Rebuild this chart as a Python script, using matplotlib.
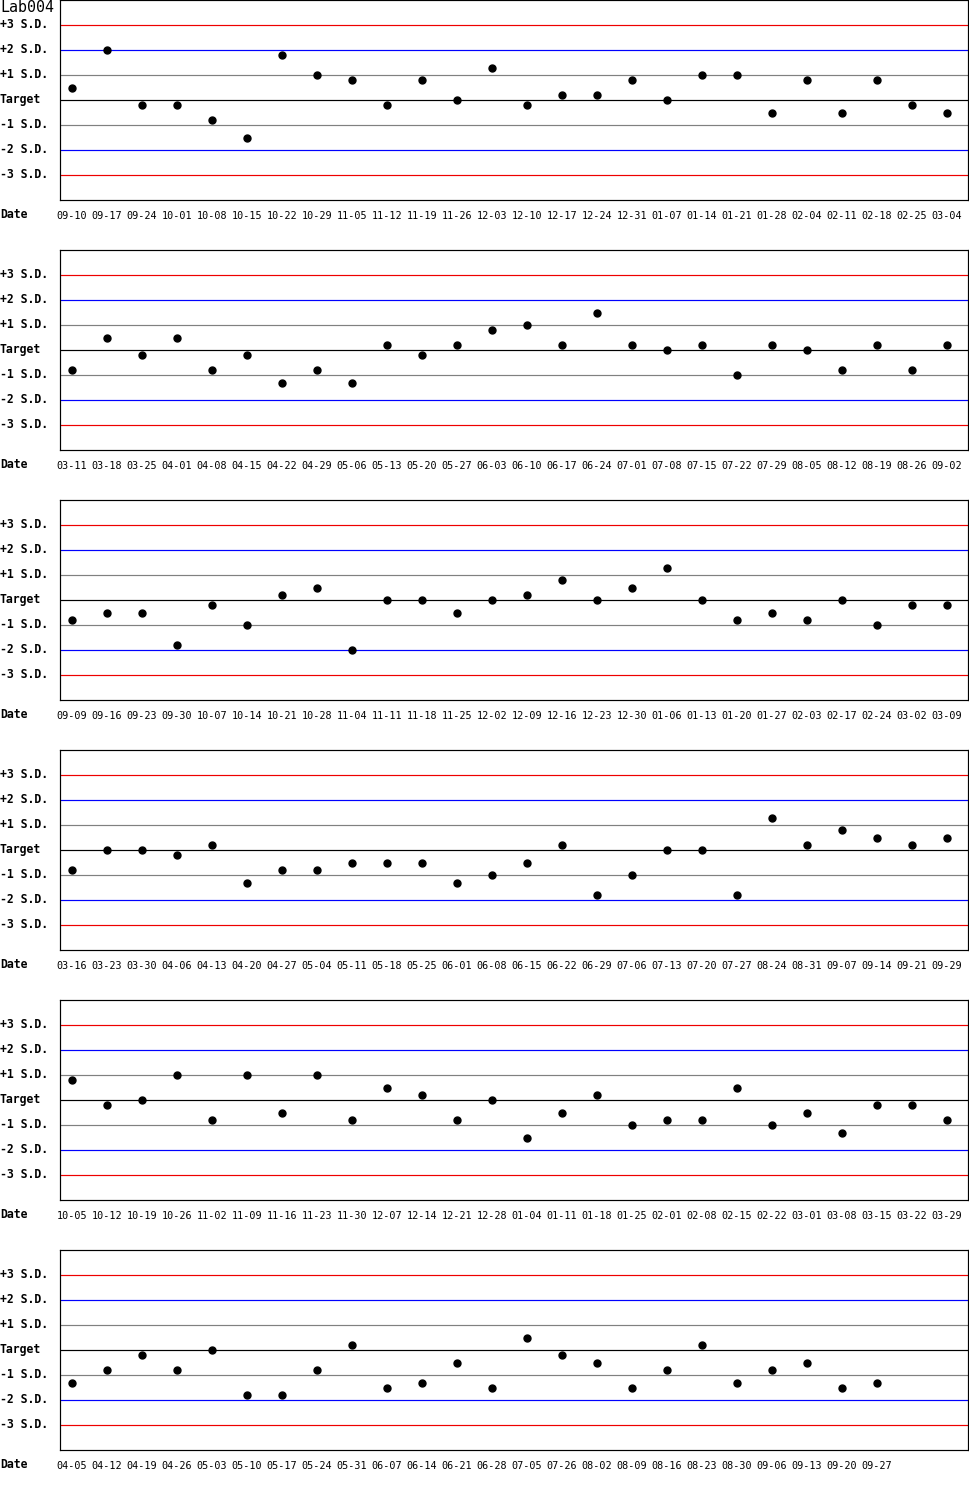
import matplotlib
matplotlib.use("Agg")
import matplotlib.pyplot as plt
import matplotlib.transforms as mtransforms

# QC dates and deviations (in S.D. from target), one list per row of the chart
dates_1 = ["09-10", "09-17", "09-24", "10-01", "10-08", "10-15", "10-22", "10-29", "11-05",
           "11-12", "11-19", "11-26", "12-03", "12-10", "12-17", "12-24", "12-31", "01-07",
           "01-14", "01-21", "01-28", "02-04", "02-11", "02-18", "02-25", "03-04"]
values_1 = [0.5, 2.0, -0.2, -0.2, -0.8, -1.5, 1.8, 1.0, 0.8, -0.2, 0.8, 0.0, 1.3, -0.2,
            0.2, 0.2, 0.8, 0.0, 1.0, 1.0, -0.5, 0.8, -0.5, 0.8, -0.2, -0.5]

dates_2 = ["03-11", "03-18", "03-25", "04-01", "04-08", "04-15", "04-22", "04-29", "05-06",
           "05-13", "05-20", "05-27", "06-03", "06-10", "06-17", "06-24", "07-01", "07-08",
           "07-15", "07-22", "07-29", "08-05", "08-12", "08-19", "08-26", "09-02"]
values_2 = [-0.8, 0.5, -0.2, 0.5, -0.8, -0.2, -1.3, -0.8, -1.3, 0.2, -0.2, 0.2, 0.8, 1.0,
            0.2, 1.5, 0.2, 0.0, 0.2, -1.0, 0.2, 0.0, -0.8, 0.2, -0.8, 0.2]

dates_3 = ["09-09", "09-16", "09-23", "09-30", "10-07", "10-14", "10-21", "10-28", "11-04",
           "11-11", "11-18", "11-25", "12-02", "12-09", "12-16", "12-23", "12-30", "01-06",
           "01-13", "01-20", "01-27", "02-03", "02-17", "02-24", "03-02", "03-09"]
values_3 = [-0.8, -0.5, -0.5, -1.8, -0.2, -1.0, 0.2, 0.5, -2.0, 0.0, 0.0, -0.5, 0.0, 0.2,
            0.8, 0.0, 0.5, 1.3, 0.0, -0.8, -0.5, -0.8, 0.0, -1.0, -0.2, -0.2]

dates_4 = ["03-16", "03-23", "03-30", "04-06", "04-13", "04-20", "04-27", "05-04", "05-11",
           "05-18", "05-25", "06-01", "06-08", "06-15", "06-22", "06-29", "07-06", "07-13",
           "07-20", "07-27", "08-24", "08-31", "09-07", "09-14", "09-21", "09-29"]
values_4 = [-0.8, 0.0, 0.0, -0.2, 0.2, -1.3, -0.8, -0.8, -0.5, -0.5, -0.5, -1.3, -1.0, -0.5,
            0.2, -1.8, -1.0, 0.0, 0.0, -1.8, 1.3, 0.2, 0.8, 0.5, 0.2, 0.5]

dates_5 = ["10-05", "10-12", "10-19", "10-26", "11-02", "11-09", "11-16", "11-23", "11-30",
           "12-07", "12-14", "12-21", "12-28", "01-04", "01-11", "01-18", "01-25", "02-01",
           "02-08", "02-15", "02-22", "03-01", "03-08", "03-15", "03-22", "03-29"]
values_5 = [0.8, -0.2, 0.0, 1.0, -0.8, 1.0, -0.5, 1.0, -0.8, 0.5, 0.2, -0.8, 0.0, -1.5,
            -0.5, 0.2, -1.0, -0.8, -0.8, 0.5, -1.0, -0.5, -1.3, -0.2, -0.2, -0.8]

dates_6 = ["04-05", "04-12", "04-19", "04-26", "05-03", "05-10", "05-17", "05-24", "05-31",
           "06-07", "06-14", "06-21", "06-28", "07-05", "07-26", "08-02", "08-09", "08-16",
           "08-23", "08-30", "09-06", "09-13", "09-20", "09-27"]
values_6 = [-1.3, -0.8, -0.2, -0.8, 0.0, -1.8, -1.8, -0.8, 0.2, -1.5, -1.3, -0.5, -1.5, 0.5,
            -0.2, -0.5, -1.5, -0.8, 0.2, -1.3, -0.8, -0.5, -1.5, -1.3]

rows = [(dates_1, values_1), (dates_2, values_2), (dates_3, values_3),
        (dates_4, values_4), (dates_5, values_5), (dates_6, values_6)]

sd_levels = [3, 2, 1, 0, -1, -2, -3]
sd_labels = ["+3 S.D.", "+2 S.D.", "+1 S.D.", "Target", "-1 S.D.", "-2 S.D.", "-3 S.D."]
sd_colors = ["#ee0000", "#0000ff", "#808080", "#000000", "#808080", "#0000ff", "#ee0000"]

W, H = 970, 1500
fig = plt.figure(figsize=(W / 100, H / 100), dpi=100)
mono = "DejaVu Sans Mono"
px = 0.72  # one pixel in points

for r, (dates, values) in enumerate(rows):
    top = 250 * r
    ax = fig.add_axes([60 / W, 1 - (top + 200) / H, 908 / W, 200 / H])
    ax.set_xlim(-12 / 35, 896 / 35)
    ax.set_ylim(-4, 4)
    for lvl, col in zip(sd_levels, sd_colors):
        ax.axhline(lvl, color=col, lw=1.2 * px, zorder=1)
    ax.plot(range(len(values)), values, "o", color="black", ms=5, zorder=3)
    ax.set_xticks([])
    ax.set_yticks([])
    for s in ax.spines.values():
        s.set_linewidth(1.2 * px)
        s.set_color("black")

    # left-side S.D. labels
    trans = mtransforms.blended_transform_factory(fig.transFigure, ax.transData)
    for lvl, lab in zip(sd_levels, sd_labels):
        ax.text(0.0, lvl + 0.02, lab, transform=trans, ha="left", va="center",
                family=mono, fontsize=8.3, fontweight="bold", clip_on=False)

    # date row under each plot
    ax.text(0.0, -4.6, "Date", transform=trans, ha="left", va="center",
            family=mono, fontsize=8.3, fontweight="bold", clip_on=False)
    for i, d in enumerate(dates):
        ax.text(i, -4.65, d, ha="center", va="center", family=mono,
                fontsize=7.3, clip_on=False)

    if r == 0:
        ax.text(0.0, 3.7, "Lab004", transform=trans, ha="left", va="center",
                family=mono, fontsize=10.8, clip_on=False)

fig.savefig("out.png", dpi=100)
